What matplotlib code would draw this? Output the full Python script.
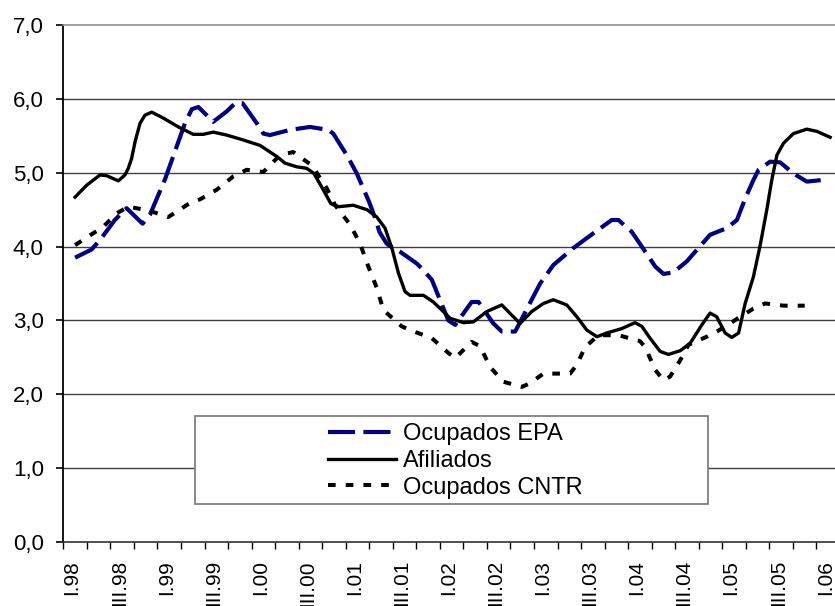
import matplotlib
matplotlib.use("Agg")
import matplotlib.pyplot as plt
from matplotlib.patches import Rectangle
from matplotlib.transforms import ScaledTranslation

plt.rcParams['font.family'] = ['Liberation Sans', 'DejaVu Sans']

# x = quarters counted from I.98 (0 = I.98, 32 = I.06)
epa_x = [0.0, 0.7, 1.06, 1.69, 2.19, 2.87, 3.18, 3.54, 3.82, 4.39, 4.67, 4.96, 5.24,
         5.87, 6.44, 6.8, 7.12, 7.72, 8.0, 8.28, 9.13, 9.98, 10.76, 10.97, 11.58,
         11.97, 12.5, 12.78, 12.93, 13.24, 13.52, 13.81, 14.52, 14.8, 15.16, 15.5,
         15.86, 16.15, 16.85, 17.14, 17.77, 18.13, 18.7, 19.4, 19.76, 20.32, 21.17,
         22.02, 22.8, 23.09, 23.65, 24.08, 24.65, 25.0, 25.42, 25.99, 26.98, 27.69,
         28.12, 28.47, 28.82, 29.04, 29.53, 29.96, 30.52, 31.09, 32.0]
epa_y = [3.85, 3.96, 4.09, 4.36, 4.52, 4.31, 4.43, 4.70, 4.91, 5.42, 5.67, 5.86, 5.89,
         5.69, 5.83, 5.94, 5.94, 5.67, 5.53, 5.51, 5.58, 5.62, 5.58, 5.53, 5.22,
         4.99, 4.60, 4.36, 4.20, 4.04, 3.98, 3.93, 3.77, 3.68, 3.55, 3.28,
         3.00, 2.94, 3.25, 3.25, 2.96, 2.85, 2.85, 3.28, 3.50, 3.75, 3.98,
         4.18, 4.36, 4.36, 4.20, 4.00, 3.73, 3.63, 3.65, 3.80, 4.16, 4.25,
         4.36, 4.65, 4.90, 5.04, 5.15, 5.14, 4.99, 4.88, 4.91]

afil_x = [0.0, 0.49, 1.06, 1.34, 1.84, 2.12, 2.26, 2.4, 2.55, 2.76, 2.97, 3.26, 3.75,
          4.39, 5.02, 5.45, 5.87, 6.44, 7.08, 7.86, 8.57, 8.92, 9.42, 9.84, 10.15,
          10.58, 10.87, 11.2, 11.82, 12.4, 12.82, 13.17, 13.46, 13.74, 14.02, 14.23,
          14.8, 15.22, 15.65, 15.93, 16.5, 16.92, 17.49, 18.13, 18.56, 18.91, 19.4,
          19.9, 20.32, 20.89, 21.32, 21.74, 22.17, 22.59, 23.23, 23.79, 24.08, 24.43,
          24.86, 25.21, 25.71, 26.13, 26.63, 26.98, 27.26, 27.62, 27.9, 28.19, 28.47,
          28.82, 29.11, 29.39, 29.6, 29.82, 30.1, 30.52, 31.09, 31.52, 32.08]
afil_y = [4.67, 4.83, 4.97, 4.96, 4.89, 4.97, 5.06, 5.19, 5.42, 5.67, 5.78, 5.82, 5.74,
          5.62, 5.52, 5.52, 5.55, 5.51, 5.45, 5.37, 5.22, 5.13, 5.08, 5.06, 4.99,
          4.75, 4.58, 4.54, 4.56, 4.50, 4.40, 4.25, 3.98, 3.64, 3.39, 3.34,
          3.34, 3.25, 3.12, 3.03, 2.97, 2.98, 3.12, 3.21, 3.07, 2.96, 3.12,
          3.23, 3.28, 3.21, 3.05, 2.87, 2.78, 2.83, 2.89, 2.97, 2.92, 2.76,
          2.58, 2.54, 2.59, 2.69, 2.94, 3.10, 3.05, 2.83, 2.77, 2.83, 3.23,
          3.59, 4.02, 4.50, 4.90, 5.24, 5.40, 5.53, 5.59, 5.56, 5.48]

cntr_x = [0.0, 0.77, 1.2, 1.77, 2.26, 3.11, 3.96, 4.88, 5.31, 6.02, 6.72, 7.29, 8.0,
          8.71, 9.27, 10.06, 10.69, 11.05, 11.68, 12.11, 12.46, 12.82, 13.1, 13.88,
          14.23, 15.16, 15.86, 16.15, 16.85, 17.21, 17.63, 18.2, 18.98, 19.33, 19.9,
          21.03, 21.32, 21.67, 22.24, 23.09, 24.0, 24.22, 24.65, 25.0, 25.28, 25.71,
          26.06, 26.84, 27.27, 27.83, 28.26, 28.82, 29.32, 30.1, 31.0]
cntr_y = [4.02, 4.18, 4.27, 4.45, 4.54, 4.49, 4.40, 4.59, 4.64, 4.77, 4.95, 5.04, 5.01,
          5.24, 5.28, 5.10, 4.79, 4.56, 4.30, 4.04, 3.73, 3.44, 3.14, 2.92,
          2.87, 2.76, 2.56, 2.49, 2.71, 2.65, 2.37, 2.17, 2.10, 2.15, 2.28,
          2.28, 2.40, 2.64, 2.80, 2.80, 2.72, 2.64, 2.33, 2.19, 2.24, 2.46,
          2.67, 2.78, 2.85, 2.96, 3.05, 3.16, 3.23, 3.20, 3.20]

quarter_labels = ['I.98', 'III.98', 'I.99', 'III.99', 'I.00', 'III.00', 'I.01', 'III.01',
                  'I.02', 'III.02', 'I.03', 'III.03', 'I.04', 'III.04', 'I.05', 'III.05',
                  'I.06']
y_labels = ['0,0', '1,0', '2,0', '3,0', '4,0', '5,0', '6,0', '7,0']
series_names = ['Ocupados EPA', 'Afiliados', 'Ocupados CNTR']

fig = plt.figure(figsize=(8.35, 6.06), dpi=100)
ax = fig.add_axes([0.0758, 0.1056, 0.9302, 0.8531])

n_quarters = 2 * (len(quarter_labels) - 1) + 1
ax.set_xlim(-0.5, n_quarters - 0.5)
ax.set_ylim(0, 7)

# grid lines
for v in range(1, 7):
    ax.axhline(v, color='#404040', lw=1.0, zorder=1)

ax.plot(epa_x, epa_y, color='#000080', lw=3.0, dashes=(6.5, 2.0),
        label=series_names[0], zorder=4, dash_capstyle='butt')
ax.plot(afil_x, afil_y, color='black', lw=2.4, label=series_names[1], zorder=5)
ax.plot(cntr_x, cntr_y, color='black', lw=2.9, dashes=(1.9, 2.5),
        label=series_names[2], zorder=4, dash_capstyle='butt')

# axes styling
ax.spines['right'].set_visible(False)
ax.spines['top'].set_color('#909090')
ax.spines['top'].set_linewidth(1.2)
ax.spines['left'].set_linewidth(1.3)
ax.spines['bottom'].set_color('#303030')
ax.spines['bottom'].set_linewidth(1.2)

ax.set_yticks(range(len(y_labels)))
ax.set_yticklabels(y_labels)
ax.tick_params(axis='y', length=5, width=1.2, pad=9, labelsize=16)

ax.set_xticks([2 * i for i in range(len(quarter_labels))])
ax.set_xticklabels(quarter_labels, rotation=90)
ax.set_xticks([k - 0.5 for k in range(n_quarters)], minor=True)
ax.tick_params(axis='x', which='major', length=0, pad=13, labelsize=15)
ax.tick_params(axis='x', which='minor', length=5, width=1.0)
shift = ScaledTranslation(-3 / 100, 0, fig.dpi_scale_trans)
for lab in ax.get_xticklabels():
    lab.set_transform(lab.get_transform() + shift)

# legend box
box = Rectangle((0.1696, 0.0729), 0.6601, 0.1714, transform=ax.transAxes,
                facecolor='white', edgecolor='#808080', lw=1.3, zorder=6)
ax.add_patch(box)
leg = ax.legend(loc='upper left', bbox_to_anchor=(0.3404, 0.23), frameon=False,
                fontsize=17, handlelength=2.9, handletextpad=0.3, labelspacing=0.2,
                borderpad=0, borderaxespad=0)
leg.set_zorder(7)

fig.savefig('out.png', dpi=100)
